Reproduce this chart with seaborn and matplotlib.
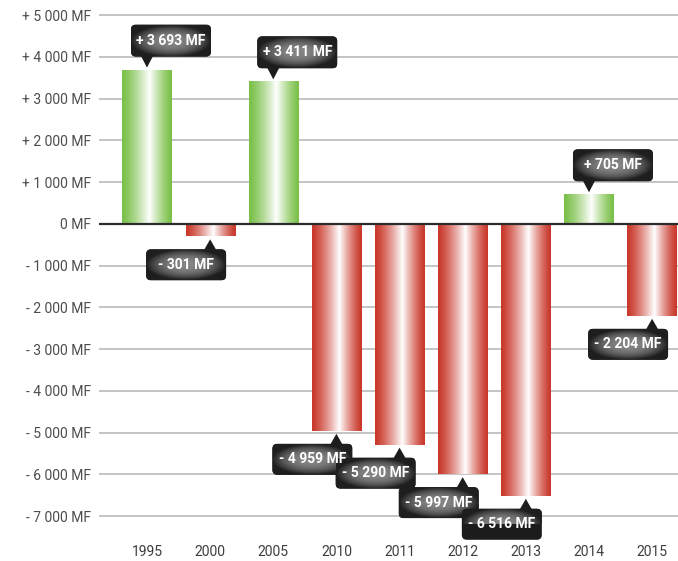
import numpy as np
import pandas as pd
import matplotlib
matplotlib.use("Agg")
import matplotlib.pyplot as plt
from matplotlib.patches import FancyBboxPatch, Polygon
from matplotlib.transforms import ScaledTranslation
import seaborn as sns

# Trade balance by year, in millions of francs (MF)
years = ["1995", "2000", "2005", "2010", "2011", "2012", "2013", "2014", "2015"]
balance = [3693, -301, 3411, -4959, -5290, -5997, -6516, 705, -2204]
y_ticks = [5000, 4000, 3000, 2000, 1000, 0, -1000, -2000, -3000, -4000, -5000, -6000, -7000]

GREEN = np.array([122, 192, 72]) / 255
RED = np.array([201, 55, 42]) / 255


def fmt_mf(v):
    if v == 0:
        return "0 MF"
    sign = "+ " if v > 0 else "- "
    return sign + f"{abs(v):,}".replace(",", " ") + " MF"


sns.set_style("white")
plt.rcParams["font.family"] = ["Roboto", "DejaVu Sans"]

df = pd.DataFrame({"year": years, "balance": balance})

fig = plt.figure(figsize=(6.78, 5.61), dpi=100)
ax = fig.add_axes([99 / 678, 0.06533, 1 - 99 / 678, 0.9228])

sns.barplot(data=df, x="year", y="balance", order=years, width=0.78,
            color="white", ax=ax, zorder=2)

# horizontal gradient: saturated edges, white streak slightly right of centre
t = np.linspace(0, 1, 256)
peak = 0.55
w = np.where(t < peak, t / peak, (1 - t) / (1 - peak)) ** 1.3


def bar_gradient(base):
    rgb = base[None, :] * (1 - w[:, None]) + w[:, None]
    return rgb[None, :, :]


for patch, val in zip(ax.patches, balance):
    patch.set_facecolor("none")
    patch.set_edgecolor("none")
    x0, y0 = patch.get_x(), patch.get_y()
    wdt, hgt = patch.get_width(), patch.get_height()
    img = bar_gradient(GREEN if val > 0 else RED)
    im = ax.imshow(img, extent=(x0, x0 + wdt, min(y0, y0 + hgt), max(y0, y0 + hgt)),
                   aspect="auto", interpolation="bilinear", zorder=2)
    im.set_clip_path(patch)

# radial dark-grey fill for the value callouts
gx, gy = np.meshgrid(np.linspace(-1, 1, 160), np.linspace(-1, 1, 64))
r = np.clip(np.sqrt(gx ** 2 + gy ** 2), 0, 1)
lvl = 0.12 + 0.40 * (1 - r ** 2.4)
callout_img = np.dstack([lvl, lvl, lvl])

PX = 1 / 100  # one pixel in inches
for i, val in enumerate(balance):
    trans = fig.dpi_scale_trans + ScaledTranslation(i, val, ax.transData)
    if val > 0:
        bx0, bx1 = -16 * PX, 64 * PX
        by0, by1 = 13 * PX, 45 * PX
        tri = [(-6 * PX, by0 + 0.5 * PX), (6 * PX, by0 + 0.5 * PX), (0, 2 * PX)]
    else:
        bx0, bx1 = -64 * PX, 16 * PX
        by0, by1 = -44 * PX, -13 * PX
        tri = [(-6 * PX, by1 - 0.5 * PX), (6 * PX, by1 - 0.5 * PX), (0, -3 * PX)]
    box = FancyBboxPatch((bx0, by0), bx1 - bx0, by1 - by0,
                         boxstyle=f"round,pad=0,rounding_size={5 * PX}",
                         transform=trans, facecolor="#1c1c1c", edgecolor="none",
                         zorder=5, clip_on=False)
    ax.add_patch(box)
    ax.add_patch(Polygon(tri, closed=True, transform=trans, facecolor="#1c1c1c",
                         edgecolor="none", zorder=5, clip_on=False))
    cim = ax.imshow(callout_img, extent=(bx0, bx1, by0, by1), transform=trans,
                    aspect="auto", interpolation="bilinear", zorder=6)
    cim.set_clip_path(box)
    cim.set_clip_on(True)
    ax.text((bx0 + bx1) / 2, (by0 + by1) / 2, fmt_mf(val), transform=trans,
            ha="center", va="center", color="white", fontsize=10,
            fontweight="bold", zorder=7)

ax.set_xlim(-0.76, 8.41)
ax.set_ylim(-7200, 5200)
ax.set_yticks(y_ticks)
ax.set_yticklabels([fmt_mf(v) for v in y_ticks])
ax.set_xlabel("")
ax.set_ylabel("")

for v in y_ticks:
    if v != 0:
        ax.axhline(v, color="#b4b4b4", lw=1.1, zorder=1)
ax.axhline(0, color="#2b2b2b", lw=1.6, zorder=4)

for s in ax.spines.values():
    s.set_visible(False)
ax.tick_params(axis="y", length=0, pad=5.5, labelsize=10, labelcolor="#4d4d4d")
ax.tick_params(axis="x", length=0, pad=15, labelsize=10, labelcolor="#3d3d3d")

fig.savefig("out.png", dpi=100)
